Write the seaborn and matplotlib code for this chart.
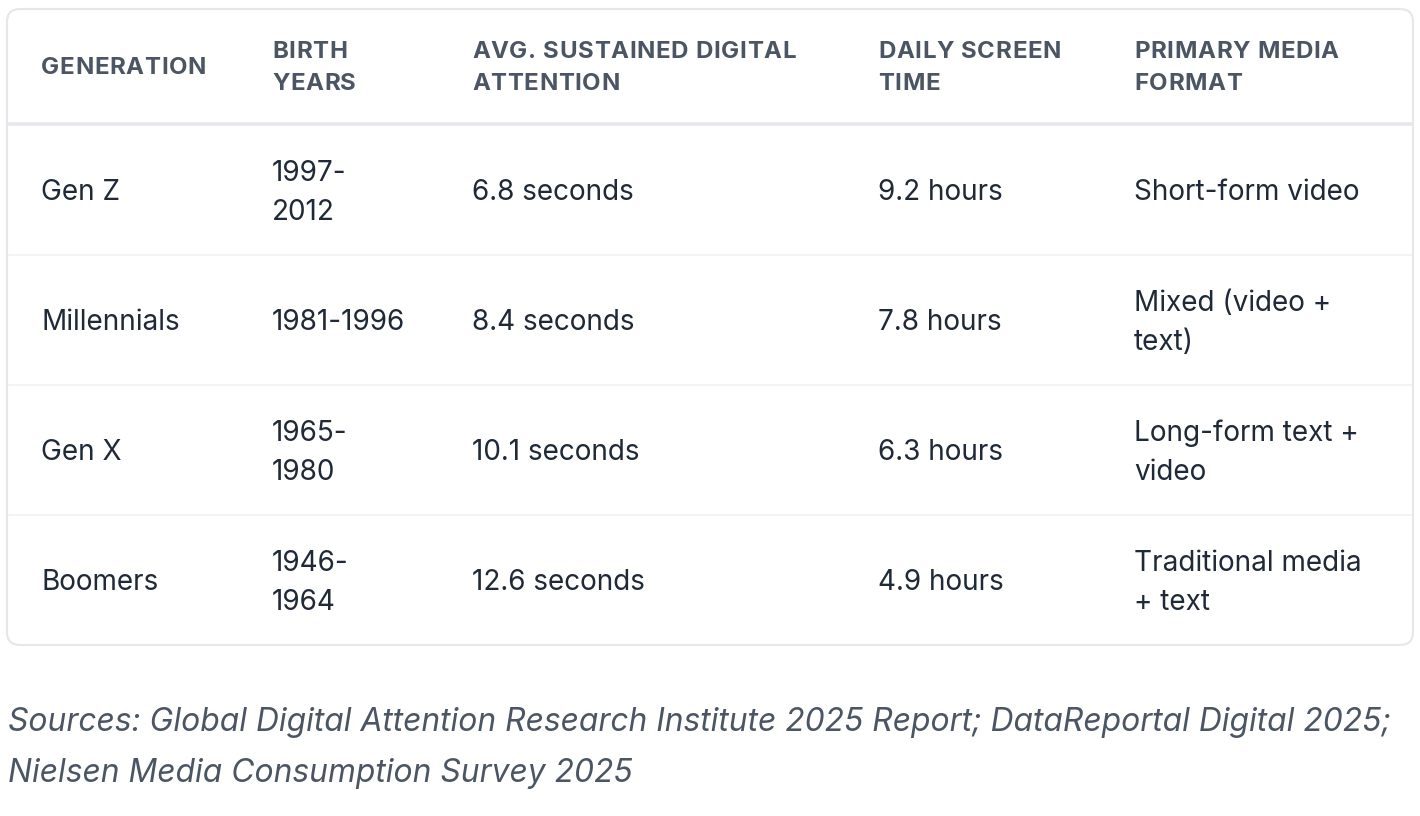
import matplotlib
matplotlib.use("Agg")
import matplotlib.pyplot as plt
import seaborn as sns
from matplotlib.patches import FancyBboxPatch

sns.set_theme(style="white")
plt.rcParams["font.family"] = ["Inter", "DejaVu Sans"]

# table content
headers = ["GENERATION", "BIRTH\nYEARS", "AVG. SUSTAINED DIGITAL\nATTENTION",
           "DAILY SCREEN\nTIME", "PRIMARY MEDIA\nFORMAT"]
generations = ["Gen Z", "Millennials", "Gen X", "Boomers"]
birth_years = ["1997-\n2012", "1981-1996", "1965-\n1980", "1946-\n1964"]
attention = ["6.8 seconds", "8.4 seconds", "10.1 seconds", "12.6 seconds"]
screen_time = ["9.2 hours", "7.8 hours", "6.3 hours", "4.9 hours"]
media_format = ["Short-form video", "Mixed (video +\ntext)", "Long-form text +\nvideo",
                "Traditional media\n+ text"]
source_note = ("Sources: Global Digital Attention Research Institute 2025 Report; "
               "DataReportal Digital 2025;\nNielsen Media Consumption Survey 2025")

# layout (pixels)
W, H = 1420, 816
col_x = [41, 272, 472, 878, 1134]
box = (7, 9, 1413, 645)
header_line = 124
row_lines = [255, 385, 515]
row_centers = [190, 320, 450, 580]

fig = plt.figure(figsize=(W / 100, H / 100), dpi=100)
ax = fig.add_axes([0, 0, 1, 1])
ax.set_xlim(0, W)
ax.set_ylim(H, 0)
ax.axis("off")
renderer = fig.canvas.get_renderer()


def text_width(s, **kw):
    t = ax.text(0, 0, s + "|", **kw)
    bar = ax.text(0, 0, "|", **kw)
    w = t.get_window_extent(renderer).width - bar.get_window_extent(renderer).width
    t.remove()
    bar.remove()
    return w


def tracked_text(x, y, s, spacing, **kw):
    # header labels are letter-spaced
    for i, ch in enumerate(s):
        if ch == " ":
            continue
        dx = text_width(s[:i], **kw) if i else 0
        ax.text(x + dx + i * spacing, y, ch, **kw)


x0, y0, x1, y1 = box
ax.add_patch(FancyBboxPatch((x0, y0), x1 - x0, y1 - y0,
                            boxstyle="round,pad=0,rounding_size=13",
                            fc="white", ec="#e5e7eb", lw=1.5))
ax.plot([x0, x1], [header_line, header_line], color="#e5e7eb", lw=2.6,
        solid_capstyle="butt")
for y in row_lines:
    ax.plot([x0 + 1, x1 - 1], [y, y], color="#f1f2f4", lw=1.3,
            solid_capstyle="butt")

hkw = dict(ha="left", va="baseline", fontsize=17.3, fontweight="bold",
           color="#4b5563")
for x, h in zip(col_x, headers):
    lines = h.split("\n")
    first = 74 if len(lines) == 1 else 58
    for k, line in enumerate(lines):
        tracked_text(x, first + k * 32, line, 0.65, **hkw)

columns = [generations, birth_years, attention, screen_time, media_format]
for x, col in zip(col_x, columns):
    for y, val in zip(row_centers, col):
        ax.text(x, y + 3, val, ha="left", va="center", fontsize=20.1,
                color="#1f2937", linespacing=1.58)

ax.text(8, 748, source_note, ha="left", va="center", fontsize=22.9,
        style="italic", color="#4b5563", linespacing=1.86)

fig.savefig("out.png", dpi=100, facecolor="white")
